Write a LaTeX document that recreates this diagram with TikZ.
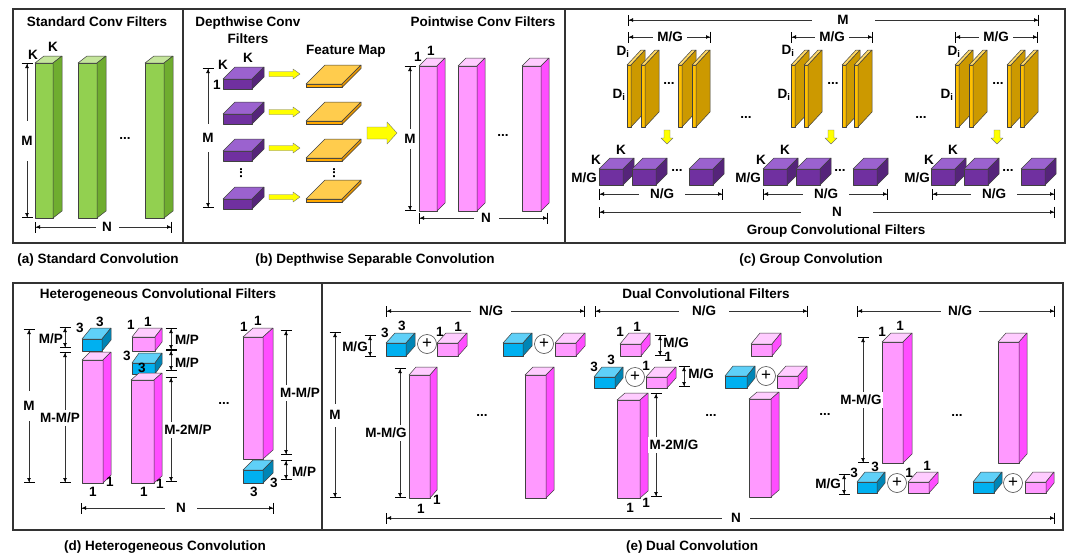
\documentclass[tikz,border=0pt]{standalone}
\usepackage{fontspec}
\setmainfont{Liberation Sans}
\usetikzlibrary{arrows.meta}
\definecolor{grF}{HTML}{92D050}\definecolor{grT}{HTML}{C4E59B}\definecolor{grS}{HTML}{6FAD2F}
\definecolor{puF}{HTML}{7030A0}\definecolor{puT}{HTML}{9B62CF}\definecolor{puS}{HTML}{55247A}
\definecolor{pkF}{HTML}{FF99FF}\definecolor{pkT}{HTML}{FFCCFF}\definecolor{pkS}{HTML}{FF4DFF}
\definecolor{blF}{HTML}{00B0F0}\definecolor{blT}{HTML}{5FD0F8}\definecolor{blS}{HTML}{0085B5}
\definecolor{orF}{HTML}{FFC000}\definecolor{orT}{HTML}{FFD966}\definecolor{orS}{HTML}{CC9900}
\definecolor{feF}{HTML}{FFA800}\definecolor{feT}{HTML}{FFCC4D}\definecolor{feS}{HTML}{E69500}
\definecolor{yel}{HTML}{FFFF00}
\newcounter{lb}\newcounter{dm}
\newcommand\lab[3]{\stepcounter{lb}\node[lbl] (lb\arabic{lb}) at (#1,#2) {#3};}
\newcommand\cub[7]{%
 \filldraw[cubeline,fill=#7F] (#1,#2) rectangle ++(#3,#4);
 \filldraw[cubeline,fill=#7T] (#1,#2) -- ++(#5,#6) -- ++(#3,0) -- ++({-(#5)},{-(#6)}) -- cycle;
 \filldraw[cubeline,fill=#7S] ({#1+#3},#2) -- ++(#5,#6) -- ++(0,#4) -- ++({-(#5)},{-(#6)}) -- cycle;}
\newcommand\dimv[6]{\stepcounter{dm}%
 \coordinate (d\arabic{dm}a) at (#1,#2); \coordinate (d\arabic{dm}b) at (#1,#3);
 \draw[dimline] (d\arabic{dm}a) -- (d\arabic{dm}b);
 \ifdim #5pt>0pt \node[dlab,minimum height=#5pt] (dl\arabic{dm}) at (#6,{(#2+#3)/2}) {#4};\fi}
\newcommand\dimh[6]{\stepcounter{dm}%
 \coordinate (d\arabic{dm}a) at (#1,#3); \coordinate (d\arabic{dm}b) at (#2,#3);
 \draw[dimline] (d\arabic{dm}a) -- (d\arabic{dm}b);
 \ifdim #5pt>0pt \node[dlab,minimum width=#5pt] (dl\arabic{dm}) at (#6,#3) {#4};\fi}
\newcommand\yarr[2]{\filldraw[yarrow] (#1,{#2-2.5}) -- ({#1+24},{#2-2.5}) -- ({#1+24},{#2-5}) -- ({#1+31},#2) -- ({#1+24},{#2+5}) -- ({#1+24},{#2+2.5}) -- (#1,{#2+2.5}) -- cycle;}
\newcommand\darr[2]{\filldraw[yarrow] ({#1-3},#2) -- ({#1+3},#2) -- ({#1+3},{#2+8}) -- ({#1+6},{#2+8}) -- (#1,{#2+14}) -- ({#1-6},{#2+8}) -- ({#1-3},{#2+8}) -- cycle;}
\newcommand\opl[2]{\stepcounter{lb}\node[oplus] (op\arabic{lb}) at (#1,#2) {+};}
\begin{document}
\begin{tikzpicture}[x=1pt,y=-1pt,
 font=\fontsize{13.5}{15}\selectfont\bfseries,
 lbl/.style={inner sep=0pt,anchor=center},
 dlab/.style={fill=white,inner sep=1.5pt,anchor=center},
 cubeline/.style={draw=black!75,line width=0.5pt,line join=round},
 dimline/.style={draw=black!80,line width=0.6pt,
   {Bar[width=11pt,color=black,line width=1pt,sep=0pt]Latex[length=4pt,width=4pt,color=black]}-{Latex[length=4pt,width=4pt,color=black]Bar[width=11pt,color=black,line width=1pt,sep=0pt]}},
 yarrow/.style={fill=yel,draw=black!55,line width=0.4pt,line join=round},
 oplus/.style={circle,draw=black!70,line width=0.6pt,fill=white,minimum size=19pt,inner sep=0pt,font=\fontsize{17}{17}\selectfont\mdseries},
 frame/.style={draw=black!80,line width=1.2pt}]
\useasboundingbox (0,0) rectangle (1080,560);
\fill[white] (0,0) rectangle (1080,560);
% frames
\draw[frame] (13,9) rectangle (1065,243);
\draw[frame] (183,9) -- (183,243);
\draw[frame] (565,9) -- (565,243);
\draw[frame] (13,283) rectangle (1063,530);
\draw[frame] (322,283) -- (322,530);
% ---------- (a)
\lab{97}{22}{Standard Conv Filters}
\cub{35}{63}{18}{155}{9}{-7}{gr}
\cub{78}{63}{19}{155}{9}{-7}{gr}
\cub{145}{63}{19}{155}{9}{-7}{gr}
\lab{125}{138}{...}
\lab{33}{55}{K}\lab{53}{47}{K}
\dimv{27}{63}{218}{M}{40}{27}
\dimh{35}{172}{227}{N}{23}{107}
% ---------- (b)
\node[lbl,align=center] (t2) at (248,30.5) {Depthwise Conv\\[2pt]Filters};
\lab{346}{51}{Feature Map}
\lab{483}{22}{Pointwise Conv Filters}
\cub{223}{79}{29}{10}{12}{-12}{pu}
\cub{223}{114}{29}{10}{12}{-12}{pu}
\cub{223}{151}{29}{10}{12}{-12}{pu}
\cub{223}{199}{29}{10}{12}{-12}{pu}
\lab{223}{65}{K}\lab{248}{58}{K}\lab{217}{85}{1}
\node[lbl,rotate=90] (vd1) at (241,173) {...};
\dimv{208}{68}{208}{M}{28}{208}
\yarr{269}{74}\yarr{269}{112}\yarr{269}{148}\yarr{269}{197}
\cub{306}{84}{36}{3.5}{19}{-19}{fe}
\cub{306}{121}{36}{3.5}{19}{-19}{fe}
\cub{306}{158}{36}{3.5}{19}{-19}{fe}
\cub{306}{199}{36}{3.5}{19}{-19}{fe}
\node[lbl,rotate=90] (vd2) at (334,173) {...};
\filldraw[yarrow] (367,127) -- (387,127) -- (387,122) -- (397,133) -- (387,144) -- (387,139) -- (367,139) -- cycle;
\cub{419}{66}{18}{145}{8}{-8}{pk}
\cub{458}{66}{19}{145}{8}{-8}{pk}
\cub{522}{66}{19}{145}{8}{-8}{pk}
\lab{418}{57}{1}\lab{431}{51}{1}
\dimv{410}{66}{211}{M}{20}{410}
\dimh{419}{548}{218}{N}{25}{486}
\lab{503}{135}{...}
% ---------- (c)
\dimh{628}{1039}{20}{M}{63}{843}
\dimh{628}{711}{37}{M/G}{34}{670}
\dimh{791}{873}{37}{M/G}{34}{832}
\dimh{955}{1038}{37}{M/G}{34}{996}
\foreach \px in {627,641,678,692,791,804,842,854,955,969,1007,1020}{\cub{\px}{65}{4}{62}{14}{-15}{or}}
\lab{623}{52}{D\textsubscript{i}}\lab{619}{95}{D\textsubscript{i}}
\lab{788}{51}{D\textsubscript{i}}\lab{784}{95}{D\textsubscript{i}}
\lab{954}{52}{D\textsubscript{i}}\lab{947}{95}{D\textsubscript{i}}
\lab{669}{83}{...}\lab{833}{83}{...}\lab{998}{83}{...}
\lab{746}{117}{...}\lab{921}{117}{...}
\darr{667}{130}\darr{831}{130}\darr{997}{130}
\foreach \px in {599,632,689,763,796,853,931,964,1021}{\cub{\px}{169}{24}{16}{11}{-11}{pu}}
\lab{677}{170}{...}\lab{840}{170}{...}\lab{1008}{170}{...}
\lab{596}{160}{K}\lab{621}{150}{K}
\lab{761}{160}{K}\lab{785}{150}{K}
\lab{929}{160}{K}\lab{953}{150}{K}
\lab{584}{178}{M/G}\lab{748}{178}{M/G}\lab{917}{178}{M/G}
\dimh{599}{723}{194}{N/G}{46}{662}
\dimh{763}{888}{194}{N/G}{46}{826}
\dimh{932}{1055}{194}{N/G}{46}{994}
\dimh{599}{1055}{212}{N}{72}{837}
\lab{836}{231}{Group Convolutional Filters}
% ---------- captions
\lab{98}{260}{(a) Standard Convolution}
\lab{375}{260}{(b) Depthwise Separable Convolution}
\lab{811}{260}{(c) Group Convolution}
\lab{165}{547}{(d) Heterogeneous Convolution}
\lab{692}{547}{(e) Dual Convolution}
% ---------- (d)
\lab{158}{295}{Heterogeneous Convolutional Filters}
\cub{82}{339}{20}{12}{9}{-11}{bl}
\cub{82}{360}{21}{123}{8}{-8}{pk}
\cub{132}{337}{23}{14}{7}{-9}{pk}
\cub{132}{363}{23}{11}{7}{-10}{bl}
\cub{131}{380}{23}{103}{8}{-7}{pk}
\cub{243}{337}{20}{122}{10}{-9}{pk}
\cub{243}{470}{20}{13}{10}{-10}{bl}
\lab{80}{328}{3}\lab{100}{322}{3}\lab{93}{492}{1}\lab{110}{482}{1}
\lab{131}{325}{1}\lab{148}{322}{1}\lab{127}{356}{3}\lab{142}{368}{3}
\lab{144}{492}{1}\lab{160}{484}{1}
\lab{244}{327}{1}\lab{258}{321}{1}\lab{254}{492}{3}\lab{274}{483}{3}
\lab{224}{403}{...}
\dimv{29}{329}{483}{M}{30}{29}
\dimv{65}{327}{348}{}{0}{0}\lab{51}{339}{M/P}
\dimv{65}{352}{483}{M-M/P}{16}{60}
\dimv{171}{328}{350}{}{0}{0}\dimv{171}{350}{371}{}{0}{0}
\dimv{171}{377}{482}{M-2M/P}{16}{188}
\lab{187}{340}{M/P}\lab{187}{363}{M/P}
\dimv{286}{330}{455}{M-M/P}{16}{300}
\dimv{286}{460}{480}{}{0}{0}\lab{304}{472}{M/P}
\dimh{81}{274}{508}{N}{32}{181}
% ---------- (e)
\lab{706}{294}{Dual Convolutional Filters}
\dimh{386}{585}{311}{N/G}{40}{491}
\dimh{595}{808}{311}{N/G}{50}{704}
\dimh{857}{1055}{311}{N/G}{38}{960}
\dimh{386}{1055}{518}{N}{28}{736}
\dimv{335}{332}{498}{M}{23}{335}
% group 1
\cub{386}{343}{20}{13}{9}{-10}{bl}\opl{427}{344}\cub{437}{343}{21}{13}{9}{-10}{pk}
\cub{409}{375}{21}{123}{7}{-8}{pk}
\cub{503}{343}{20}{13}{9}{-10}{bl}\opl{544}{344}\cub{555}{343}{21}{13}{9}{-10}{pk}
\cub{525}{375}{21}{123}{8}{-8}{pk}
\lab{385}{333}{3}\lab{402}{326}{3}\lab{440}{332}{1}\lab{458}{327}{1}
\lab{421}{509}{1}\lab{437}{500}{1}
\dimv{370}{335}{357}{}{0}{0}\lab{355}{347}{M/G}
\dimv{400}{368}{498}{M-M/G}{16}{386}
\lab{482}{415}{...}
% group 2
\cub{620}{344}{21}{12}{9}{-11}{pk}
\cub{594}{377}{21}{11}{8}{-10}{bl}\opl{635}{377}\cub{646}{377}{21}{11}{9}{-10}{pk}
\cub{617}{400}{23}{98}{8}{-7}{pk}
\cub{751}{344}{21}{12}{9}{-11}{pk}
\cub{725}{376}{22}{12}{8}{-10}{bl}\opl{766}{376}\cub{777}{376}{21}{12}{9}{-10}{pk}
\cub{749}{399}{22}{98}{8}{-7}{pk}
\lab{620}{332}{1}\lab{637}{327}{1}
\lab{594}{367}{3}\lab{611}{360}{3}\lab{646}{366}{1}\lab{668}{357}{1}
\lab{630}{508}{1}\lab{646}{503}{1}
\dimv{660}{335}{356}{}{0}{0}\lab{676}{343}{M/G}
\dimv{684}{366}{387}{}{0}{0}\lab{701}{374}{M/G}
\dimv{656}{393}{497}{M-2M/G}{16}{674}
\lab{711}{415}{...}
\lab{825}{414}{...}
% group 3
\cub{882}{342}{21}{121}{9}{-9}{pk}
\cub{857}{482}{20}{11}{8}{-10}{bl}\opl{897}{483}\cub{908}{482}{21}{11}{9}{-10}{pk}
\cub{998}{342}{21}{121}{8}{-9}{pk}
\cub{973}{482}{21}{11}{8}{-10}{bl}\opl{1013}{483}\cub{1025}{482}{21}{11}{8}{-10}{pk}
\lab{882}{332}{1}\lab{900}{326}{1}
\lab{854}{473}{3}\lab{875}{467}{3}\lab{909}{473}{1}\lab{927}{466}{1}
\dimv{863}{337}{463}{M-M/G}{16}{861}
\dimv{844}{474}{495}{}{0}{0}\lab{828}{484}{M/G}
\lab{957}{415}{...}
\end{tikzpicture}
\end{document}
